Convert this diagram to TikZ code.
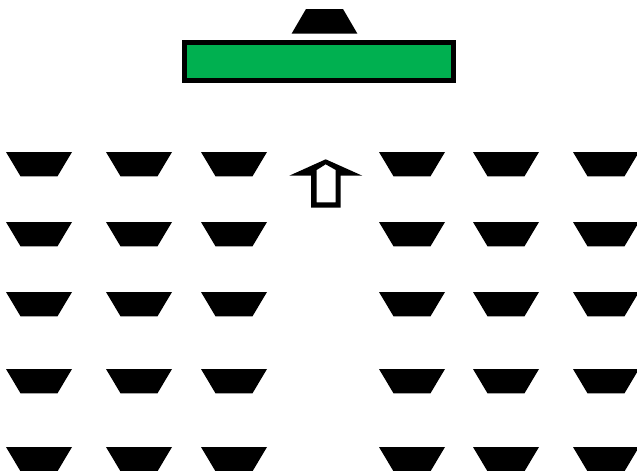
\documentclass[tikz,border=0pt]{standalone}
\definecolor{boardgreen}{HTML}{00B050}
\tikzset{
  seat/.style={fill=black},
  board/.style={draw=black, fill=boardgreen, line width=3.75pt, line join=miter},
  pointer/.style={fill=black, even odd rule},
}

\begin{document}
\begin{tikzpicture}[x=0.75pt, y=-0.75pt]
  \useasboundingbox (0,0) rectangle (637,471);
  % teacher and board
  \fill[seat] (291.7,33.5) -- (306,9) -- (343,9) -- (357.3,33.5) -- cycle;
  \draw[board] (184.5,42.5) rectangle (453.5,80.5);
  % facing direction
  \fill[pointer] (289.3,175.7) -- (325.7,159.3) -- (362.3,175.7) -- (340.7,175.7)
    -- (340.7,207.7) -- (311,207.7) -- (311,175.7) -- cycle
    (316.7,202.3) -- (335.7,202.3) -- (335.7,170) -- (325.7,164.3) -- (316.7,170) -- cycle;
  % students
  \foreach \col in {6,106,201,379,473,573}
    \foreach \row in {152,222,292,369,447}
      \fill[seat] (\col,\row) -- ++(66,0) -- ++(-14.5,24.3) -- ++(-37,0) -- cycle;
\end{tikzpicture}
\end{document}
